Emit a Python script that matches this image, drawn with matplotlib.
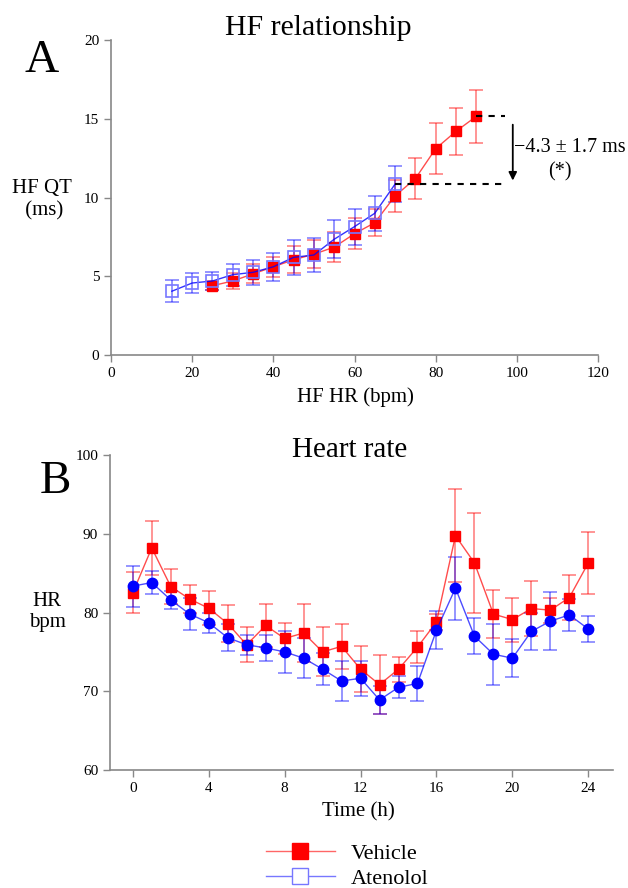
import matplotlib
matplotlib.use('Agg')
import matplotlib.pyplot as plt
from matplotlib.lines import Line2D

plt.rcParams['font.family'] = ['Liberation Serif', 'DejaVu Serif']

# panel A: HF QT vs HF HR
ate_hr = [15, 20, 25, 30, 35, 40, 45, 50, 55, 60, 65, 70]
ate_qt = [4.05, 4.57, 4.7, 5.1, 5.25, 5.6, 6.2, 6.35, 7.35, 8.15, 9.0, 10.85]
ate_qt_err = [0.7, 0.65, 0.55, 0.7, 0.8, 0.9, 1.1, 1.05, 1.2, 1.15, 1.1, 1.15]
veh_hr = [25, 30, 35, 40, 45, 50, 55, 60, 65, 70, 75, 80, 85, 90]
veh_qt = [4.4, 4.7, 5.15, 5.6, 6.05, 6.4, 6.85, 7.7, 8.4, 10.1, 11.2, 13.1, 14.2, 15.15]
veh_qt_err = [0.3, 0.5, 0.6, 0.65, 0.85, 0.9, 0.95, 1.0, 0.85, 1.0, 1.3, 1.6, 1.5, 1.7]

# panel B: heart rate over 24 h
hours = list(range(25))
veh_hr_b = [82.5, 88.2, 83.3, 81.7, 80.55, 78.6, 75.9, 78.35, 76.7, 77.4, 75.0, 75.7, 72.8,
            70.85, 72.8, 75.6, 78.8, 89.75, 86.3, 79.8, 79.1, 80.5, 80.3, 81.9, 86.3]
veh_hr_b_err = [2.6, 3.4, 2.2, 1.8, 2.2, 2.4, 2.2, 2.7, 2.0, 3.7, 3.1, 2.9, 2.9,
                3.8, 1.6, 2.0, 1.0, 5.9, 6.3, 3.1, 2.8, 3.5, 1.6, 2.8, 3.9]
ate_hr_b = [83.35, 83.8, 81.6, 79.8, 78.7, 76.8, 75.9, 75.5, 75.0, 74.2, 72.8, 71.3, 71.65,
            68.9, 70.5, 71.0, 77.75, 83.1, 77.0, 74.7, 74.2, 77.6, 78.9, 79.7, 77.9]
ate_hr_b_err = [2.6, 1.5, 1.1, 2.0, 1.3, 1.7, 1.3, 1.7, 2.7, 2.5, 2.0, 2.6, 2.2,
                1.8, 1.4, 2.2, 2.4, 4.0, 2.3, 3.9, 2.4, 2.3, 3.7, 2.0, 1.6]

W, H = 628, 888
fig = plt.figure(figsize=(W / 100, H / 100), dpi=100)

def frac(x0, y0, x1, y1):
    return [x0 / W, 1 - y1 / H, (x1 - x0) / W, (y1 - y0) / H]

def style(ax):
    for s in ['top', 'right']:
        ax.spines[s].set_visible(False)
    for s in ['left', 'bottom']:
        ax.spines[s].set_color('#888888')
        ax.spines[s].set_linewidth(1.2)
    ax.tick_params(colors='#888888', labelcolor='black', labelsize=11, length=5, width=1)

red = '#ff0000'
blue = '#0000ff'
eb = dict(fmt='none', alpha=0.45, capsize=5, elinewidth=1.3, capthick=1.3)

# ---- panel A
axA = fig.add_axes(frac(111, 40, 598, 355))
axA.errorbar(veh_hr, veh_qt, yerr=veh_qt_err, ecolor=red, **eb)
axA.errorbar(ate_hr, ate_qt, yerr=ate_qt_err, ecolor=blue, **eb)
axA.plot(veh_hr, veh_qt, color=red, lw=1, alpha=0.7)
axA.plot(veh_hr, veh_qt, ls='none', marker='s', ms=7.5, mfc=red, mec=red)
axA.plot(ate_hr, ate_qt, color=blue, lw=1, alpha=0.8)
axA.plot(ate_hr, ate_qt, ls='none', marker='s', ms=8, mfc='none', mec='#7777ff', mew=1.2)
axA.set_xlim(0, 120)
axA.set_ylim(0, 20)
axA.set_xticks(range(0, 121, 20))
axA.set_yticks(range(0, 21, 5))
style(axA)

# difference annotation
axA.plot([90, 97], [veh_qt[-1], veh_qt[-1]], color='black', ls='--', lw=1.5, dashes=(3, 3))
axA.plot([70, 97], [ate_qt[-1], ate_qt[-1]], color='black', ls='--', lw=1.5, dashes=(3, 3))
axA.annotate('', xy=(99, 10.9), xytext=(99, 14.8),
             arrowprops=dict(arrowstyle='-|>', color='black', lw=1.3, mutation_scale=12))
axA.text(99.3, 13.2, '\u22124.3 \u00b1 1.7 ms', fontsize=14.5, va='center', ha='left', clip_on=False)
axA.text(110.5, 11.6, '(*)', fontsize=14.5, va='center', ha='center', clip_on=False)

# ---- panel B
axB = fig.add_axes(frac(110, 455, 613, 770))
axB.errorbar(hours, veh_hr_b, yerr=veh_hr_b_err, ecolor=red, **eb)
axB.errorbar(hours, ate_hr_b, yerr=ate_hr_b_err, ecolor=blue, **eb)
axB.plot(hours, veh_hr_b, color=red, lw=1, alpha=0.7)
axB.plot(hours, veh_hr_b, ls='none', marker='s', ms=7.5, mfc=red, mec=red)
axB.plot(hours, ate_hr_b, color=blue, lw=1, alpha=0.7)
axB.plot(hours, ate_hr_b, ls='none', marker='o', ms=7.5, mfc=blue, mec=blue)
axB.set_xlim(-1.2, 25.3)
axB.set_ylim(60, 100)
axB.set_xticks(range(0, 25, 4))
axB.set_yticks(range(60, 101, 10))
style(axB)

# ---- texts
fig.text(42 / W, 1 - 61 / H, 'A', fontsize=34, ha='center', va='center')
fig.text(55 / W, 1 - 482 / H, 'B', fontsize=34, ha='center', va='center')
fig.text(318 / W, 1 - 28 / H, 'HF relationship', fontsize=21.5, ha='center', va='center')
fig.text(350 / W, 1 - 450 / H, 'Heart rate', fontsize=21, ha='center', va='center')
fig.text(42 / W, 1 - 200 / H, 'HF QT\n (ms)', fontsize=15, ha='center', va='center', linespacing=1.2)
fig.text(47 / W, 1 - 612 / H, 'HR\nbpm', fontsize=15, ha='center', va='center', linespacing=1.2)
fig.text(355 / W, 1 - 397 / H, 'HF HR (bpm)', fontsize=15, ha='center', va='center')
fig.text(358 / W, 1 - 812 / H, 'Time (h)', fontsize=15, ha='center', va='center')

# ---- legend
h_veh = Line2D([], [], color='#ff6666', lw=1, marker='s', ms=11, mfc=red, mec=red)
h_ate = Line2D([], [], color='#7777ff', lw=1, marker='s', ms=11, mfc='white', mec='#7777ff')
fig.legend([h_veh, h_ate], ['Vehicle', 'Atenolol'], loc='center', bbox_to_anchor=(347 / W, 1 - 866 / H),
           frameon=False, fontsize=16, handlelength=3.1, labelspacing=0.2, handletextpad=0.7)

fig.savefig('out.png', dpi=100)
